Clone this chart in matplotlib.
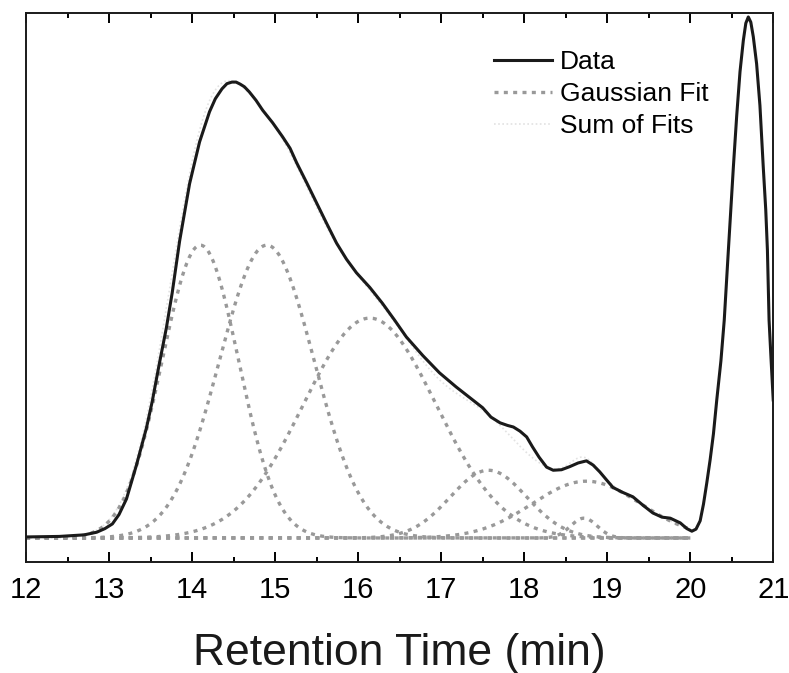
import numpy as np
import matplotlib
matplotlib.use("Agg")
import matplotlib.pyplot as plt
from matplotlib.ticker import MultipleLocator

plt.rcParams["font.family"] = ["Liberation Sans", "DejaVu Sans"]

# chromatogram trace (normalised signal)
time_min = [
    12.0, 12.4, 12.7, 12.85, 12.95, 13.04, 13.12, 13.21, 13.33, 13.45,
    13.52, 13.60, 13.69, 13.76, 13.85, 13.97, 14.09, 14.21, 14.28, 14.36,
    14.42, 14.48, 14.53, 14.58, 14.63, 14.69, 14.77, 14.85, 14.97, 15.09,
    15.18, 15.26, 15.38, 15.50, 15.62, 15.74, 15.86, 15.98, 16.14, 16.29,
    16.44, 16.58, 16.78, 16.98, 17.18, 17.38, 17.50, 17.60, 17.71, 17.80,
    17.87, 17.95, 18.03, 18.10, 18.18, 18.27, 18.35, 18.45, 18.55, 18.65,
    18.75, 18.83, 18.91, 19.00, 19.07, 19.18, 19.31, 19.43, 19.55, 19.66,
    19.76, 19.88, 19.96, 20.02, 20.07, 20.12, 20.16, 20.20, 20.24, 20.28,
    20.32, 20.37, 20.41, 20.46, 20.52, 20.56, 20.60, 20.64, 20.67, 20.70,
    20.73, 20.76, 20.80, 20.84, 20.88, 20.91, 20.93, 20.95, 20.975, 21.0,
]
signal = [
    0.002, 0.003, 0.006, 0.011, 0.018, 0.027, 0.045, 0.075, 0.140, 0.211,
    0.262, 0.330, 0.403, 0.470, 0.570, 0.680, 0.760, 0.818, 0.843, 0.862,
    0.872, 0.875, 0.875, 0.871, 0.866, 0.856, 0.840, 0.821, 0.797, 0.770,
    0.748, 0.720, 0.682, 0.643, 0.604, 0.566, 0.535, 0.509, 0.481, 0.451,
    0.418, 0.386, 0.350, 0.317, 0.290, 0.265, 0.250, 0.232, 0.221, 0.216,
    0.213, 0.205, 0.194, 0.175, 0.155, 0.136, 0.130, 0.131, 0.137, 0.144,
    0.148, 0.140, 0.127, 0.110, 0.097, 0.088, 0.079, 0.063, 0.048, 0.040,
    0.038, 0.029, 0.018, 0.013, 0.017, 0.033, 0.065, 0.106, 0.150, 0.200,
    0.265, 0.340, 0.418, 0.553, 0.712, 0.810, 0.895, 0.955, 0.988, 1.000,
    0.990, 0.962, 0.910, 0.830, 0.712, 0.630, 0.553, 0.418, 0.340, 0.265,
]

# gaussian fit parameters
fit_centers = [14.10, 14.90, 16.14, 17.57, 18.75, 18.72]
fit_heights = [0.562, 0.562, 0.422, 0.130, 0.109, 0.038]
fit_sigmas = [0.46, 0.57, 0.80, 0.46, 0.65, 0.16]
fit_range = (12.0, 20.0)

fig = plt.figure(figsize=(7.89, 6.73), dpi=100)
ax = fig.add_axes([0.033, 0.165, 0.947, 0.816])

t = np.linspace(fit_range[0], fit_range[1], 600)
fits = [
    h * np.exp(-((t - c) ** 2) / (2 * s**2))
    for c, h, s in zip(fit_centers, fit_heights, fit_sigmas)
]

for i, g in enumerate(fits):
    ax.plot(
        t, g, color="#999999", linewidth=2.4,
        linestyle=(0, (1.2, 1.6)), dash_capstyle="butt",
        label="Gaussian Fit" if i == 0 else None, zorder=2,
    )

ax.plot(
    t, np.sum(fits, axis=0), color="#e2e2e2", linewidth=1.2,
    linestyle=(0, (1, 1.5)), label="Sum of Fits", zorder=1,
)

ax.plot(time_min, signal, color="#1a1a1a", linewidth=2.2,
        label="Data", zorder=3, solid_joinstyle="round")

ax.set_xlim(12, 21)
ax.set_ylim(-0.046, 1.008)
ax.xaxis.set_major_locator(MultipleLocator(1))
ax.xaxis.set_minor_locator(MultipleLocator(0.5))
ax.set_yticks([])
ax.tick_params(axis="x", which="both", direction="in", top=True,
               labelsize=21, pad=10, width=1.4)
ax.tick_params(axis="x", which="major", length=7)
ax.tick_params(axis="x", which="minor", length=3.5)
for sp in ax.spines.values():
    sp.set_linewidth(1.4)
    sp.set_color("#1a1a1a")

ax.set_xlabel("Retention Time (min)", fontsize=32, labelpad=21,
              color="#1a1a1a")

handles, labels = ax.get_legend_handles_labels()
order = [labels.index("Data"), labels.index("Gaussian Fit"),
         labels.index("Sum of Fits")]
ax.legend(
    [handles[i] for i in order], [labels[i] for i in order],
    loc="upper right", bbox_to_anchor=(0.945, 0.975), frameon=False,
    fontsize=19, labelspacing=0.3, handlelength=2.2, handletextpad=0.3,
)

fig.savefig("out.png", dpi=100)
